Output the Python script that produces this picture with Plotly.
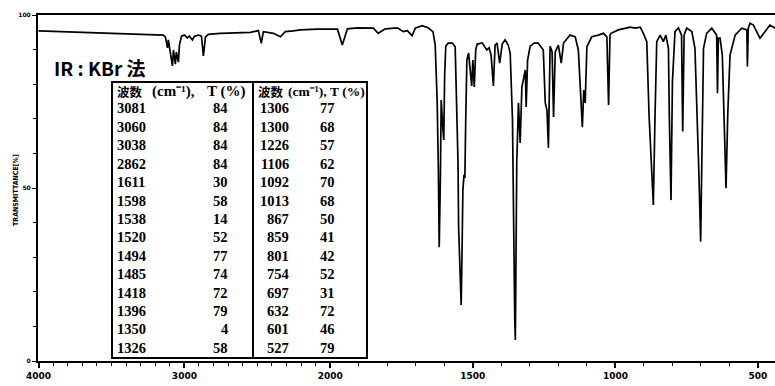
import plotly.graph_objects as go

# ---------------- data ----------------
wavenumber = [4000, 3849, 3692, 3507, 3301, 3185, 3144, 3130, 3116, 3110, 3096, 3082, 3075, 3062, 3055,
              3041, 3034, 3020, 3000, 2979, 2966, 2945, 2931, 2904, 2883, 2870, 2856, 2836, 2753, 2685,
              2548, 2493, 2473, 2459, 2390, 2342, 2308, 2253, 2205, 2089, 1975, 1958, 1940, 1905, 1849,
              1832, 1807, 1765, 1744, 1730, 1713, 1702, 1678, 1657, 1650, 1640, 1632, 1628, 1625, 1621,
              1618, 1614, 1611, 1606, 1602, 1599, 1595, 1586, 1572, 1562, 1556, 1552, 1550, 1544, 1541,
              1538, 1535, 1531, 1528, 1525, 1521, 1515, 1509, 1504, 1500, 1495, 1490, 1485, 1467, 1451,
              1443, 1436, 1428, 1422, 1415, 1406, 1397, 1387, 1376, 1369, 1361, 1358, 1353, 1351, 1348,
              1346, 1340, 1334, 1328, 1322, 1316, 1313, 1308, 1299, 1285, 1271, 1253, 1246, 1240, 1235,
              1229, 1222, 1217, 1211, 1200, 1190, 1182, 1159, 1141, 1130, 1124, 1116, 1111, 1106, 1100,
              1083, 1060, 1042, 1030, 1024, 1019, 1015, 990, 948, 931, 913, 902, 890, 882, 875,
              867, 861, 855, 843, 832, 823, 814, 811, 805, 800, 791, 779, 768, 764, 759,
              750, 732, 721, 713, 707, 701, 697, 691, 680, 662, 645, 642, 639, 633, 625,
              618, 612, 606, 598, 580, 557, 539, 537, 534, 528, 516, 504, 493, 475, 458, 440]
transmittance = [95.4, 95.2, 95.0, 94.7, 94.4, 94.4, 94.2, 93.6, 90.5, 92.8, 88.4, 85.3, 89.9, 85.8, 89.3,
                 86.4, 91.3, 93.9, 94.2, 93.4, 93.9, 92.8, 93.9, 94.2, 93.9, 88.2, 93.6, 94.4, 94.7, 94.8,
                 95.0, 95.5, 91.8, 95.2, 94.7, 93.7, 95.2, 95.4, 95.7, 95.9, 95.9, 91.3, 96.0, 96.3, 96.2,
                 94.7, 96.0, 96.3, 95.2, 95.5, 94.0, 96.2, 96.9, 96.3, 95.8, 95.2, 91.3, 82.7, 74.6, 55.2,
                 32.9, 52.3, 75.4, 68.2, 63.9, 82.4, 91.0, 91.9, 91.9, 90.8, 69.7, 57.2, 38.7, 23.4, 16.2,
                 31.2, 49.4, 53.8, 52.9, 69.7, 87.0, 89.0, 83.5, 79.5, 87.0, 79.2, 89.9, 91.6, 91.9, 89.9,
                 90.5, 88.4, 79.5, 91.3, 91.9, 86.1, 91.6, 92.8, 91.3, 89.0, 69.7, 38.7, 11.8, 6.1, 31.2,
                 57.2, 74.6, 63.0, 79.2, 82.1, 84.1, 73.4, 87.0, 91.0, 91.9, 91.9, 89.9, 74.6, 72.5, 61.6,
                 91.0, 89.3, 70.5, 89.3, 91.3, 86.1, 91.9, 94.2, 93.7, 89.9, 78.3, 67.6, 78.3, 74.6, 90.8,
                 93.7, 94.2, 94.7, 93.7, 74.0, 94.2, 94.7, 95.7, 96.5, 96.2, 96.5, 94.7, 92.3, 71.1, 58.7,
                 45.1, 71.1, 92.3, 94.2, 92.3, 94.2, 90.4, 71.1, 46.5, 80.7, 95.2, 96.3, 94.2, 66.3, 94.2,
                 96.2, 95.2, 90.4, 71.1, 53.8, 34.5, 61.6, 90.4, 94.7, 96.2, 94.2, 77.4, 93.3, 93.3, 88.4,
                 71.1, 49.9, 71.1, 88.4, 94.2, 96.2, 95.7, 85.1, 96.2, 97.6, 97.1, 95.2, 93.3, 95.2, 97.1, 96.2]

x_major = [4000, 3500, 3000, 2500, 2000, 1500, 1000, 500]
x_major_text = ["4000", "", "3000", "", "2000", "1500", "1000", "500"]
x_minor = list(range(4000, 499, -100))
y_major = [0, 50, 100]
y_major_text = ["0", "50", "100"]
y_minor = list(range(0, 101, 10))

header_parts = ["波数", "(cm⁻¹),", "T (%)"]
left_wn = ["3081", "3060", "3038", "2862", "1611", "1598", "1538", "1520", "1494", "1485", "1418", "1396", "1350", "1326"]
left_t = ["84", "84", "84", "84", "30", "58", "14", "52", "77", "74", "72", "79", "4", "58"]
right_wn = ["1306", "1300", "1226", "1106", "1092", "1013", "867", "859", "801", "754", "697", "632", "601", "527"]
right_t = ["77", "68", "57", "62", "70", "68", "50", "41", "42", "52", "31", "72", "46", "79"]

title_text = "IR : KBr 法"
y_title = "TRANSMITTANCE[%]"


# ---------------- axis transform (IR chart: 4000-2000 at half scale) ----------------
def pos(w):
    if w >= 2000:
        return 38 + (4000 - w) * 0.146
    return 330 + (2000 - w) * 0.2853


W, H = 775, 386
ML, MR, MT, MB = 38, 0, 15, 25
PW, PH = W - ML - MR, H - MT - MB


def yp(py):  # pixel row -> paper y
    return (H - MB - py) / PH


def xp(px):  # pixel column -> paper x
    return (px - ML) / PW


fig = go.Figure()
fig.add_trace(go.Scatter(
    x=[pos(w) for w in wavenumber], y=transmittance, mode="lines",
    line=dict(color="black", width=1.7), hoverinfo="skip", showlegend=False))

fig.update_layout(
    width=W, height=H, margin=dict(l=ML, r=MR, t=MT, b=MB),
    paper_bgcolor="white", plot_bgcolor="white", showlegend=False,
    xaxis=dict(range=[37.5, 775], showgrid=False, zeroline=False,
               showline=True, linecolor="black", linewidth=2, mirror=True,
               tickmode="array", tickvals=[pos(w) for w in x_major], ticktext=x_major_text,
               ticks="outside", ticklen=5, tickwidth=1.5, tickcolor="black",
               tickfont=dict(family="DejaVu Sans", size=9, color="black", weight="bold"),
               minor=dict(tickmode="array", tickvals=[pos(w) for w in x_minor],
                          ticks="outside", ticklen=3, tickwidth=1, tickcolor="black", showgrid=False)),
    yaxis=dict(range=[0, 100], showgrid=False, zeroline=False,
               showline=True, linecolor="black", linewidth=2,
               tickmode="array", tickvals=y_major, ticktext=y_major_text,
               ticks="outside", ticklen=4, tickwidth=1, tickcolor="black",
               tickfont=dict(family="DejaVu Sans", size=6, color="black", weight="bold"),
               minor=dict(tickmode="array", tickvals=y_minor, ticks="outside",
                          ticklen=3, tickwidth=1, tickcolor="black", showgrid=False)),
)

# y-axis title
fig.add_annotation(x=xp(10), y=yp(190), xref="paper", yref="paper", text=y_title,
                   textangle=-90, showarrow=False,
                   font=dict(family="DejaVu Sans Condensed, DejaVu Sans", size=7, color="black", weight="bold"))

# IR : KBr title
fig.add_annotation(x=xp(52), y=yp(67), xref="paper", yref="paper", text=title_text,
                   xanchor="left", yanchor="middle", showarrow=False,
                   font=dict(family="Noto Sans CJK JP", size=19, color="black", weight="bold"))

# table frame
tb_l, tb_r, tb_t, tb_b, tb_mid = 112, 367, 82, 358, 253
fig.add_shape(type="rect", xref="paper", yref="paper", x0=xp(tb_l), x1=xp(tb_r), y0=yp(tb_b), y1=yp(tb_t),
              line=dict(color="black", width=2), fillcolor="white", layer="above")
fig.add_shape(type="line", xref="paper", yref="paper", x0=xp(tb_mid), x1=xp(tb_mid), y0=yp(tb_b), y1=yp(tb_t),
              line=dict(color="black", width=2), layer="above")

tfont = dict(family="Liberation Serif", size=14.5, color="black", weight="bold")
hfont_l = dict(family="Liberation Serif", size=15, color="black", weight="bold")
hfont_r = dict(family="Liberation Serif", size=13.5, color="black", weight="bold")
cjkfont = dict(family="Noto Sans CJK SC", size=12.5, color="black", weight="bold")
row0, dy = 108.5, 18.4


def txt(px, py, s, anchor, font):
    fig.add_annotation(x=xp(px), y=yp(py), xref="paper", yref="paper", text=s,
                       xanchor=anchor, yanchor="middle", showarrow=False, font=font,
                       borderpad=0)


# headers
for (hx0, hx1, hx2, hf) in [(116, 151, 206, hfont_l), (257, 287, 329, hfont_r)]:
    txt(hx0, 91, header_parts[0], "left", cjkfont)
    txt(hx1, 91, header_parts[1], "left", hf)
    txt(hx2, 91, header_parts[2], "left", hf)

for i in range(len(left_wn)):
    ry = row0 + i * dy
    txt(116, ry, left_wn[i], "left", tfont)
    txt(229, ry, left_t[i], "right", tfont)
    txt(290, ry, right_wn[i], "right", tfont)
    txt(336, ry, right_t[i], "right", tfont)

fig.write_html("out.html", config={"displayModeBar": False})
